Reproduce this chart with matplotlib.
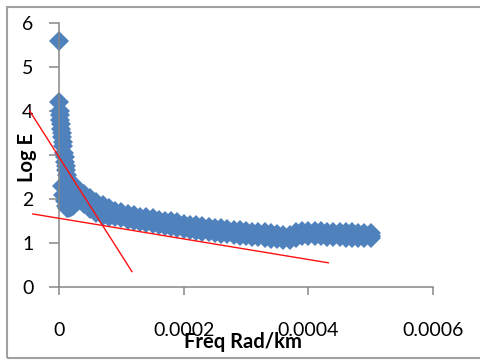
import numpy as np
import matplotlib
matplotlib.use("Agg")
import matplotlib.pyplot as plt
from matplotlib.patches import Rectangle

plt.rcParams['font.family'] = ['Lato', 'DejaVu Sans']

# frequency values below are in units of 1e-5 rad/km
# steep part near zero
freq_steep = [0, 0, 0.1, 0.15, 0.2, 0.3, 0.35, 0.45, 0.5, 0.6, 0.7, 0.8,
              0.9, 1.0, 1.1, 1.2, 1.3, 1.5, 1.7, 2.0, 2.3, 2.6]
loge_steep = [5.6, 4.2, 4.0, 3.9, 3.8, 3.7, 3.6, 3.5, 3.4, 3.3, 3.2, 3.05,
              2.95, 2.85, 2.75, 2.65, 2.55, 2.45, 2.38, 2.3, 2.25, 2.2]

# small low cluster near the axis
freq_low = [0.5, 0.7, 0.9, 1.1, 1.3, 1.6, 1.9, 2.2, 2.6, 3.0]
loge_low = [2.3, 2.1, 1.95, 1.85, 1.8, 1.8, 1.82, 1.85, 1.9, 1.95]

# main band (upper / middle / lower edge of the point cloud)
freq_band = [3, 4, 5, 6, 7, 8, 9, 10, 11, 12, 13, 14, 15, 16, 17, 18, 19, 20,
             21, 22, 23, 24, 25, 26, 27, 28, 29, 30, 31, 32, 33, 34, 35, 36,
             37, 38, 39, 40, 41, 42, 43, 44, 45, 46, 47, 48, 49, 50]
loge_mid = [2.10, 2.00, 1.90, 1.81, 1.74, 1.69, 1.66, 1.63, 1.60, 1.57, 1.54,
            1.52, 1.50, 1.47, 1.45, 1.43, 1.41, 1.38, 1.36, 1.34, 1.32, 1.30,
            1.29, 1.27, 1.26, 1.24, 1.23, 1.21, 1.20, 1.19, 1.18, 1.16, 1.14,
            1.12, 1.13, 1.18, 1.22, 1.22, 1.21, 1.21, 1.20, 1.20, 1.19, 1.18,
            1.18, 1.17, 1.17, 1.17]
loge_upper = [2.22, 2.12, 2.02, 1.93, 1.86, 1.80, 1.73, 1.70, 1.67, 1.64, 1.60,
              1.58, 1.56, 1.53, 1.51, 1.49, 1.47, 1.44, 1.42, 1.40, 1.38, 1.36,
              1.35, 1.33, 1.32, 1.30, 1.29, 1.27, 1.26, 1.25, 1.24, 1.22, 1.20,
              1.18, 1.19, 1.24, 1.28, 1.28, 1.27, 1.27, 1.26, 1.26, 1.25, 1.24,
              1.24, 1.23, 1.23, 1.23]
loge_lower = [1.98, 1.88, 1.78, 1.69, 1.62, 1.58, 1.59, 1.56, 1.53, 1.50, 1.48,
              1.46, 1.44, 1.41, 1.39, 1.37, 1.35, 1.32, 1.30, 1.28, 1.26, 1.24,
              1.23, 1.21, 1.20, 1.18, 1.17, 1.15, 1.14, 1.13, 1.12, 1.10, 1.08,
              1.06, 1.07, 1.12, 1.16, 1.16, 1.15, 1.15, 1.14, 1.14, 1.13, 1.12,
              1.12, 1.11, 1.11, 1.11]

# hand-drawn red trend lines
trend1_x = [-0.000047, 0.000117]
trend1_y = [4.0, 0.35]
trend2_x = [-0.000042, 0.000432]
trend2_y = [1.66, 0.55]

x_ticks = [0, 0.0002, 0.0004, 0.0006]
x_labels = ["0", "0.0002", "0.0004", "0.0006"]
y_ticks = [0, 1, 2, 3, 4, 5, 6]

W, H = 480, 360
fig = plt.figure(figsize=(4.8, 3.6), dpi=100)
ax = fig.add_axes([59 / W, 1 - 287 / H, 374 / W, 264 / H])

blue = "#4F81BD"
scale = 1e-5
for fx, ly in [(freq_steep, loge_steep), (freq_low, loge_low),
               (freq_band, loge_upper), (freq_band, loge_lower),
               (freq_band, loge_mid)]:
    ax.plot(np.array(fx) * scale, ly, linestyle="none", marker="D",
            markersize=10.5, color=blue, markeredgewidth=0, clip_on=False)

ax.plot(trend1_x, trend1_y, color="#FF1010", lw=1.0, clip_on=False, zorder=5)
ax.plot(trend2_x, trend2_y, color="#FF1010", lw=1.0, clip_on=False, zorder=5)

ax.set_xlim(0, 0.0006)
ax.set_ylim(0, 6)
ax.set_xticks(x_ticks)
ax.set_xticklabels(x_labels)
ax.set_yticks(y_ticks)

for s in ["top", "right"]:
    ax.spines[s].set_visible(False)
for s in ["left", "bottom"]:
    ax.spines[s].set_color("#868686")
    ax.spines[s].set_linewidth(1.1)

ax.tick_params(axis="y", direction="out", length=7.5, width=1.1,
               color="#868686", pad=11, labelsize=14)
ax.tick_params(axis="x", direction="out", length=6, width=1.1,
               color="#868686", pad=19, labelsize=14)

# axis titles (the y title sits over the "3" label, as in the original)
fig.text(27 / W, 1 - 157 / H, "Log E", rotation=90, fontsize=14.5,
         fontweight="bold", ha="center", va="center", zorder=10,
         bbox=dict(boxstyle="square,pad=0.05", fc="white", ec="none"))
fig.text(243 / W, 1 - 342 / H, "Freq Rad/km", fontsize=14.5,
         fontweight="bold", ha="center", va="center", zorder=10)

# chart-area border
fig.patches.append(Rectangle((7 / W, 2 / H), 1.0, 351 / H, transform=fig.transFigure,
                             fill=False, edgecolor="#A0A0A0", lw=1.5))

fig.savefig("out.png", dpi=100)
